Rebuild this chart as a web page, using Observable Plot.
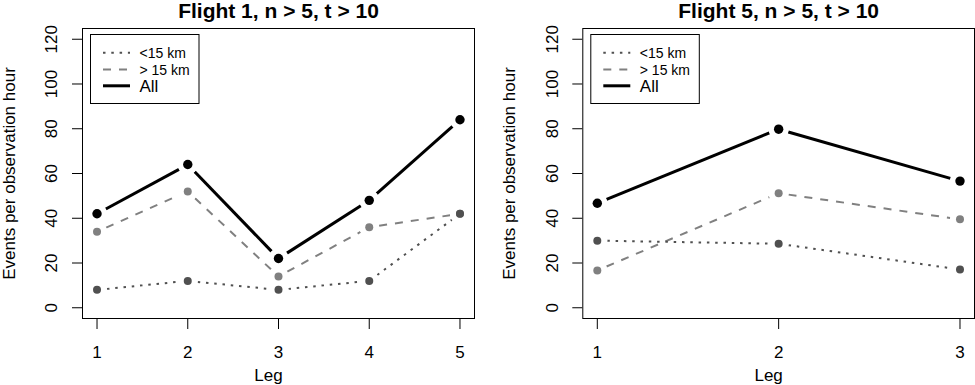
<!DOCTYPE html>
<html><head><meta charset="utf-8">
<script src="https://cdn.jsdelivr.net/npm/d3@7"></script>
<script src="https://cdn.jsdelivr.net/npm/@observablehq/plot@0.6"></script>
<style>
body{margin:0;background:#fff;}
#chart{display:flex;width:975px;height:385px;}
#chart svg{display:block;flex:none;}
</style></head><body><div id="chart"></div>
<script>
// ---- data ----
const yTicks = [0, 20, 40, 60, 80, 100, 120];
const f1Legs = [1, 2, 3, 4, 5];
const f1Near = [8, 12, 8, 12, 42];
const f1Far = [34, 52, 14, 36, 42];
const f1All = [42, 64, 22, 48, 84];
const f5Legs = [1, 2, 3];
const f5Near = [30, 28.6, 17.1];
const f5Far = [16.7, 51.2, 39.5];
const f5All = [46.7, 79.8, 56.6];
const seriesNames = ["<15 km", "> 15 km", "All"];
const titles = ["Flight 1, n > 5, t > 10", "Flight 5, n > 5, t > 10"];
const xLabel = "Leg";
const yLabel = "Events per observation hour";

// ---- styles ----
const styles = {
  "<15 km": {stroke: "#505050", strokeWidth: 2, dash: "2.5,5.8", r: 4, fontSize: 14},
  "> 15 km": {stroke: "#808080", strokeWidth: 2, dash: "8,8", r: 4, fontSize: 14},
  "All": {stroke: "#000000", strokeWidth: 3, dash: null, r: 4.7, fontSize: 17}
};
const drawOrder = ["All", "> 15 km", "<15 km"];

function panel(legs, seriesVals, title, width, marginLeft, marginRight) {
  const pts = [], segs = [];
  seriesNames.forEach((name, k) => {
    const vals = seriesVals[k];
    legs.forEach((leg, i) => {
      pts.push({name, leg, v: vals[i]});
      if (i > 0) segs.push({name, x1: legs[i - 1], y1: vals[i - 1], x2: leg, y2: vals[i]});
    });
  });
  const span = legs[legs.length - 1] - legs[0];
  const marks = [
    Plot.axisY(yTicks, {tickSize: 10, tickFormat: () => "", label: null}),
    Plot.axisX(legs, {tickSize: 11, tickFormat: () => "", label: null}),
    Plot.text(yTicks, {y: d => d, text: d => String(d), frameAnchor: "left", dx: -25.3, rotate: -90, textAnchor: "middle", lineAnchor: "bottom"}),
    Plot.text(legs, {x: d => d, text: d => String(d), frameAnchor: "bottom", dy: 39.5, lineAnchor: "bottom"}),
    Plot.text([title], {text: d => d, frameAnchor: "top", dy: -11, lineAnchor: "bottom", fontWeight: "bold", fontSize: 21}),
    Plot.text([xLabel], {text: d => d, frameAnchor: "bottom", dx: -10, dy: 62, lineAnchor: "bottom"}),
    Plot.text([yLabel], {text: d => d, frameAnchor: "left", dx: -67.5, rotate: -90, textAnchor: "middle", lineAnchor: "bottom"})
  ];
  for (const name of drawOrder) {
    const st = styles[name];
    marks.push(Plot.arrow(segs.filter(s => s.name === name), {
      x1: "x1", y1: "y1", x2: "x2", y2: "y2", inset: 10, headLength: 0,
      stroke: st.stroke, strokeWidth: st.strokeWidth, strokeDasharray: st.dash, strokeLinecap: "butt"
    }));
  }
  // gap around each point, as with R's type = "b"
  marks.push(Plot.dot(pts, {x: "leg", y: "v", r: 10, fill: "white", stroke: "none"}));
  for (const name of drawOrder) {
    const st = styles[name];
    marks.push(Plot.dot(pts.filter(p => p.name === name), {x: "leg", y: "v", r: st.r, fill: st.stroke, stroke: "none"}));
  }
  marks.push(Plot.frame({stroke: "black", strokeWidth: 1}));
  const svg = Plot.plot({
    width, height: 385,
    marginLeft, marginRight, marginTop: 28, marginBottom: 67,
    x: {domain: [legs[0] - 0.04 * span, legs[legs.length - 1] + 0.04 * span], label: null},
    y: {domain: [-4.8, 124.8], label: null},
    style: {fontFamily: "'Liberation Sans', Arial, sans-serif", fontSize: "17px", color: "black", background: "white", overflow: "visible"},
    marks
  });
  // legend
  const L = marginLeft, g = d3.select(svg).append("g").attr("text-anchor", "start");
  g.append("rect").attr("x", L + 8.5).attr("y", 34.5).attr("width", 108.5).attr("height", 69)
    .attr("fill", "white").attr("stroke", "black").attr("stroke-width", 1);
  const rowsY = [52.7, 69.5, 85.8];
  seriesNames.forEach((name, i) => {
    const st = styles[name];
    g.append("line").attr("x1", L + 21).attr("x2", L + 48).attr("y1", rowsY[i]).attr("y2", rowsY[i])
      .attr("stroke", st.stroke).attr("stroke-width", st.strokeWidth)
      .attr("stroke-dasharray", st.dash).attr("stroke-linecap", "butt");
    g.append("text").attr("x", L + 57.5).attr("y", rowsY[i] + st.fontSize * 0.36)
      .attr("text-anchor", "start").attr("font-size", st.fontSize).attr("fill", "black").text(name);
  });
  return svg;
}

const chart = document.getElementById("chart");
chart.appendChild(panel(f1Legs, [f1Near, f1Far, f1All], titles[0], 487, 82, 13));
chart.appendChild(panel(f5Legs, [f5Near, f5Far, f5All], titles[1], 488, 95.3, 1));
</script></body></html>
